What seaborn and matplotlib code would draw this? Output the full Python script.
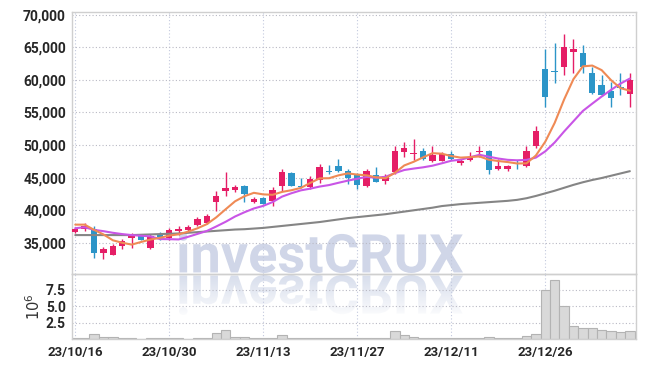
import numpy as np
import pandas as pd
import matplotlib
matplotlib.use('Agg')
import matplotlib.pyplot as plt
import seaborn as sns
from matplotlib.textpath import TextPath
from matplotlib.patches import PathPatch
from matplotlib.font_manager import FontProperties
from matplotlib.transforms import Affine2D
from matplotlib.ticker import FuncFormatter

# ---------------- data ----------------
opens = [36700, 37100, 37200, 33500, 33200, 34600, 35800, 36000, 34200, 36300,
         35700, 36900, 37000, 37800, 38100, 41200, 43000, 43150, 43700, 41200,
         41900, 41400, 43800, 45700, 43800, 43500, 44650, 46100, 46800, 46100,
         45400, 43800, 45400, 44500, 45800, 49000, 48700, 49100, 47600, 47600,
         48600, 47300, 47700, 48900, 49100, 46400, 46400, 47300, 46800, 49800,
         61700, 61300, 62000, 64300, 64200, 61000, 59200, 58300, 58800, 57800]
highs = [37400, 38100, 37600, 34400, 34900, 35600, 36500, 36400, 36300, 36600,
         37300, 37600, 37700, 38900, 39500, 43000, 45800, 43900, 43900, 42100,
         42100, 43500, 46300, 45900, 44900, 45200, 47100, 47000, 47800, 46300,
         45700, 46300, 46600, 45500, 49900, 50500, 51000, 49500, 49900, 48900,
         49100, 47800, 49000, 49800, 49200, 47800, 47000, 47700, 49900, 53000,
         64700, 65600, 67100, 66200, 65400, 62000, 60700, 59700, 61000, 61000]
lows = [36500, 36900, 32700, 32500, 33100, 34100, 34200, 35400, 34100, 35500,
        35500, 36200, 36800, 37600, 37900, 39900, 42200, 42800, 41200, 41100,
        40900, 40700, 43000, 43700, 43400, 43300, 44200, 45600, 45900, 44100,
        43300, 43600, 44300, 44000, 45600, 48200, 47700, 47700, 47400, 47500,
        47700, 47000, 47500, 48200, 45500, 46200, 46000, 46300, 46700, 49600,
        55800, 59600, 60700, 61000, 61000, 57900, 57500, 55900, 57700, 55800]
closes = [37200, 37600, 33500, 34100, 34600, 35300, 36200, 35500, 36000, 35900,
          37000, 37200, 37500, 38600, 39100, 42200, 43400, 43600, 42500, 41700,
          41000, 43100, 45800, 43800, 43500, 44800, 46600, 45900, 46000, 45000,
          43900, 46000, 44400, 45300, 49100, 49600, 48800, 47800, 48500, 48700,
          47800, 47600, 48200, 49000, 46200, 46800, 46800, 47100, 49100, 52200,
          57400, 61200, 65000, 64800, 62000, 58000, 57700, 57300, 58700, 60000]
# volume, millions of shares
volume = [0.15, 0.15, 0.8, 0.35, 0.3, 0.15, 0.15, 0.05, 0.15, 0.15,
          0.15, 0.1, 0.05, 0.15, 0.15, 0.85, 1.35, 0.3, 0.3, 0.1,
          0.15, 0.15, 0.55, 0.15, 0.1, 0.1, 0.15, 0.1, 0.1, 0.15,
          0.1, 0.1, 0.15, 0.15, 1.15, 0.6, 0.35, 0.15, 0.1, 0.1,
          0.1, 0.1, 0.1, 0.15, 0.3, 0.15, 0.15, 0.2, 0.4, 0.75,
          7.5, 9.0, 5.1, 2.0, 1.6, 1.6, 1.4, 1.2, 1.05, 1.2]
# moving-average values before the window is full
ma5_head = [37800, 37800, 37000, 36300]
ma10_head = [37250, 37400, 37000, 36800, 36550, 36350, 36200, 36100, 36000]
# long moving average (grey)
ma60 = [36200, 36200, 36200, 36200, 36200, 36200, 36200, 36250, 36300, 36350,
        36400, 36450, 36550, 36650, 36750, 36850, 36950, 37050, 37100, 37200,
        37300, 37450, 37600, 37750, 37900, 38050, 38200, 38400, 38600, 38800,
        38950, 39100, 39250, 39400, 39600, 39800, 40000, 40200, 40400, 40650,
        40800, 40950, 41050, 41150, 41250, 41350, 41450, 41600, 41850, 42200,
        42600, 43000, 43450, 43900, 44300, 44650, 44950, 45300, 45650, 46000]
tick_pos = [0, 10, 20, 30, 40, 50]
tick_labels = ['23/10/16', '23/10/30', '23/11/13', '23/11/27', '23/12/11', '23/12/26']
price_ticks = [35000, 40000, 45000, 50000, 55000, 60000, 65000, 70000]
vol_ticks = [2.5, 5.0, 7.5]

# ---------------- derived ----------------
idx = np.arange(len(closes))
df = pd.DataFrame({'x': idx, 'open': opens, 'high': highs, 'low': lows,
                   'close': closes, 'volume': volume, 'ma60': ma60})
ma5 = df['close'].rolling(5).mean().to_numpy()
ma5[:len(ma5_head)] = ma5_head
ma10 = df['close'].rolling(10).mean().to_numpy()
ma10[:len(ma10_head)] = ma10_head
df['ma5'] = ma5
df['ma10'] = ma10

UP = '#e51e66'
DOWN = '#2c95c8'
cols = [UP if c >= o else DOWN for o, c in zip(opens, closes)]

sns.set_theme(style='white')
plt.rcParams['font.family'] = ['Roboto', 'DejaVu Sans']

W, H = 645, 368
fig = plt.figure(figsize=(W / 100, H / 100), dpi=100)
fig.patch.set_facecolor('white')
L, R = 71.5, 635.5
ax = fig.add_axes([L / W, 1 - 274 / H, (R - L) / W, (274 - 11.7) / H])
ax2 = fig.add_axes([L / W, 1 - 339 / H, (R - L) / W, (339 - 274) / H], sharex=ax)
for a in (ax, ax2):
    a.set_facecolor('none')

# ---------------- watermark (behind both panels) ----------------
ov = fig.add_axes([0, 0, 1, 1], zorder=-1)
ov.set_axis_off()
ov.set_xlim(0, W)
ov.set_ylim(0, H)
ov.patch.set_alpha(0)
fp = FontProperties(family='Roboto', weight='bold')
tp = TextPath((0, 0), 'investCRUX', size=100, prop=fp)
ext = tp.get_extents()
x0, x1 = 179, 463
sx = (x1 - x0) / ext.width
sy = (273 - 233) / ext.height
tr_main = Affine2D().translate(-ext.x0, -ext.y0).scale(sx, sy).translate(x0, H - 273) + ov.transData
tr_refl = Affine2D().translate(-ext.x0, -ext.y0).scale(sx, -sy).translate(x0, H - 275) + ov.transData
ov.add_patch(PathPatch(tp, transform=tr_main, facecolor='#d0d6e8', edgecolor='none'))
refl = PathPatch(tp, transform=tr_refl, facecolor='none', edgecolor='none')
ov.add_patch(refl)
alpha = np.linspace(0.9, 0.05, 60)[:, None] * np.ones((1, 4))
rgba = np.zeros((60, 4, 4))
rgba[..., 0] = 0.83
rgba[..., 1] = 0.855
rgba[..., 2] = 0.92
rgba[..., 3] = alpha
im = ov.imshow(rgba, extent=[x0 - 2, x1 + 2, H - 318, H - 275], origin='upper',
               aspect='auto', interpolation='bilinear')
im.set_clip_path(refl)
ov.set_xlim(0, W)
ov.set_ylim(0, H)

# ---------------- candles ----------------
ax.vlines(df['x'], df['low'], df['high'], colors=cols, linewidth=1.0, zorder=3)
body = np.maximum(np.abs(df['close'] - df['open']), 140)
bottom = np.minimum(df['open'], df['close'])
ax.bar(df['x'], body, bottom=bottom, width=0.68, color=cols, linewidth=0, zorder=4)

# moving averages
sns.lineplot(data=df, x='x', y='ma60', ax=ax, color='#858585', linewidth=1.5, zorder=5)
sns.lineplot(data=df, x='x', y='ma10', ax=ax, color='#c955e6', linewidth=1.5, zorder=6)
sns.lineplot(data=df, x='x', y='ma5', ax=ax, color='#ef8a55', linewidth=1.5, zorder=7)

# volume
sns.barplot(data=df, x='x', y='volume', ax=ax2, native_scale=True, width=1.0,
            color='#d9d9d9', saturation=1, edgecolor='#b3b3b3', linewidth=0.8,
            errorbar=None, zorder=2)

# ---------------- axes styling ----------------
ax.set_xlim(-0.4, 59.6)
ax.set_ylim(30230, 70460)
ax2.set_ylim(0, 9.9)
ax.set_yticks(price_ticks)
ax.yaxis.set_major_formatter(FuncFormatter(lambda v, p: f'{int(v):,}'))
ax2.set_yticks(vol_ticks)
ax2.set_yticklabels([f'{v:.1f}' for v in vol_ticks])
ax2.set_xticks(tick_pos)
ax2.set_xticklabels(tick_labels)
plt.setp(ax.get_xticklabels(), visible=False)
ax.set_xlabel('')
ax.set_ylabel('')
ax2.set_xlabel('')
ax2.set_ylabel(r'$10^6$', fontsize=10.5, color='#333333', labelpad=2)

for a in (ax, ax2):
    a.grid(True, axis='y', linestyle=(0, (1, 2)), color='#b9b9c4', linewidth=0.8)
    a.grid(True, axis='x', linestyle=(0, (1, 2)), color='#c3c9de', linewidth=0.8)
    a.set_axisbelow(True)
    a.tick_params(axis='both', length=0, labelsize=10, labelcolor='#262626', pad=4)
    for s in a.spines.values():
        s.set_color('#cfcfcf')
        s.set_linewidth(1.0)
    for t in a.get_yticklabels():
        t.set_fontweight('bold')
ax2.tick_params(axis='x', labelsize=9.5, pad=5)
for t in ax2.get_xticklabels():
    t.set_fontweight('bold')

fig.savefig('out.png', dpi=100, facecolor='white')
